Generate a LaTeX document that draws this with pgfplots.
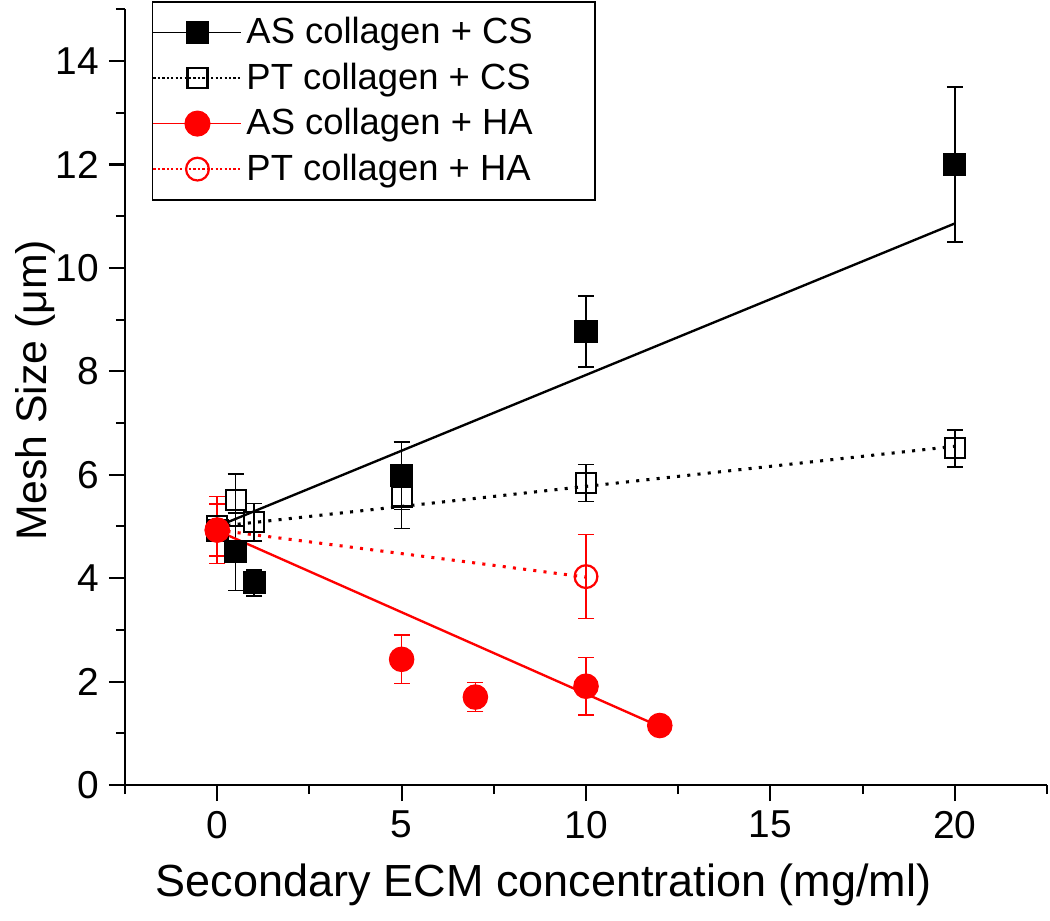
\documentclass[border=0pt]{standalone}
\usepackage{fontspec}
\setmainfont{Liberation Sans}
\usepackage{pgfplots}
\pgfplotsset{compat=1.18}
\usepackage{pgfplotstable}
\definecolor{pred}{RGB}{255,0,0}

\pgfplotstableread{
x y e
0 4.93 0.0
0.5 4.51 0.75
1 3.91 0.25
5 5.98 0.65
10 8.77 0.69
20 12.0 1.5
}\asCS
\pgfplotstableread{
x y e
0 5.0 0.0
0.5 5.51 0.5
1 5.08 0.36
5 5.58 0.62
10 5.84 0.36
20 6.51 0.36
}\ptCS
\pgfplotstableread{
x y e
0 4.93 0.65
5 2.43 0.47
7 1.70 0.28
10 1.91 0.56
12 1.15 0.0
}\asHA
\pgfplotstableread{
x y e
0 4.93 0.5
10 4.03 0.81
}\ptHA

\begin{document}
\begin{tikzpicture}
\begin{axis}[
  name=ax,
  scale only axis,
  width=331.9pt, height=279.2pt,
  xmin=-2.5, xmax=22.5, ymin=0, ymax=15,
  axis x line*=bottom, axis y line*=left,
  axis line style={line width=0.75pt, -},
  xtick={0,5,10,15,20},
  minor xtick={-2.5,2.5,7.5,12.5,17.5,22.5},
  ytick={0,2,...,14},
  minor ytick={1,3,...,15},
  tick align=outside,
  major tick length=5.8pt, minor tick length=3.3pt,
  every tick/.style={black, line width=0.75pt},
  /pgf/number format/assume math mode=true,
  tick label style={font=\fontsize{14}{16}\selectfont},
  xlabel={Secondary ECM concentration (mg/ml)},
  ylabel={Mesh Size (μm)},
  xlabel style={font=\fontsize{16.2}{18}\selectfont, at={(rel axis cs:0.454,-0.129)}, anchor=center},
  ylabel style={font=\fontsize{15.4}{18}\selectfont, at={(rel axis cs:-0.0976,0.509)}, anchor=center, rotate=0},
  clip=false,
  legend cell align=left,
  legend image code/.code={\draw[mark repeat=2,mark phase=2,#1] plot coordinates {(0pt,0pt) (15.85pt,0pt) (31.7pt,0pt)};},
  legend style={draw=black, line width=0.6pt, fill=white,
    at={(rel axis cs:0.029,1.011)}, anchor=north west,
    inner xsep=0pt, inner ysep=3.6pt,
    font=\fontsize{13.1}{15}\selectfont,
    row sep=1.4pt,
    /tikz/every even column/.append style={column sep=0pt},
    nodes={inner xsep=1.5pt}},
  error bars/y dir=both, error bars/y explicit,
  error bars/error mark options={rotate=90, mark size=2.9pt, line width=0.55pt},
  error bars/error bar style={line width=0.55pt},
]
\addlegendimage{black, line width=0.45pt, mark=square*, mark size=3.95pt, mark options={solid}}
\addlegendentry{AS collagen + CS\kern 21pt}
\addlegendimage{black, line width=0.45pt, dash pattern=on 0.8pt off 0.8pt, mark=square, mark size=3.6pt, mark options={solid, fill=white, line width=0.75pt}}
\addlegendentry{PT collagen + CS}
\addlegendimage{pred, line width=0.6pt, mark=*, mark size=4.4pt, mark options={solid}}
\addlegendentry{AS collagen + HA}
\addlegendimage{pred, line width=0.45pt, dash pattern=on 0.8pt off 0.8pt, mark=o, mark size=4.1pt, mark options={solid, fill=white, line width=0.8pt}}
\addlegendentry{PT collagen + HA}

\addplot[only marks, black, mark=square*, mark size=3.95pt, error bars/error bar style={black}, forget plot]
  table[x=x, y=y, y error=e]{\asCS};
\addplot[only marks, black, mark=square, mark size=3.6pt, mark options={fill=white, line width=0.75pt}, forget plot]
  table[x=x, y=y, y error=e]{\ptCS};
\addplot[only marks, pred, mark=*, mark size=4.4pt, forget plot]
  table[x=x, y=y, y error=e]{\asHA};
\addplot[only marks, pred, mark=o, mark size=4.1pt, mark options={fill=white, line width=0.8pt}, forget plot]
  table[x=x, y=y, y error=e]{\ptHA};

\addplot[black, line width=0.85pt, no marks, forget plot] coordinates {(0,5.0) (20,10.86)};
\addplot[black, line width=1.1pt, dash pattern=on 1.1pt off 2.6pt, no marks, forget plot] coordinates {(0,5.0) (20,6.55)};
\addplot[pred, line width=0.85pt, no marks, forget plot] coordinates {(0,4.92) (12,1.13)};
\addplot[pred, line width=1.1pt, dash pattern=on 1.1pt off 2.6pt, no marks, forget plot] coordinates {(0,4.93) (10,4.02)};

\coordinate (bbSW) at (rel axis cs:-0.1356,-0.17535);
\coordinate (bbNE) at (rel axis cs:1.00325,1.01212);
\end{axis}
\pgfresetboundingbox
\path[use as bounding box] (bbSW) rectangle (bbNE);
\end{tikzpicture}
\end{document}
